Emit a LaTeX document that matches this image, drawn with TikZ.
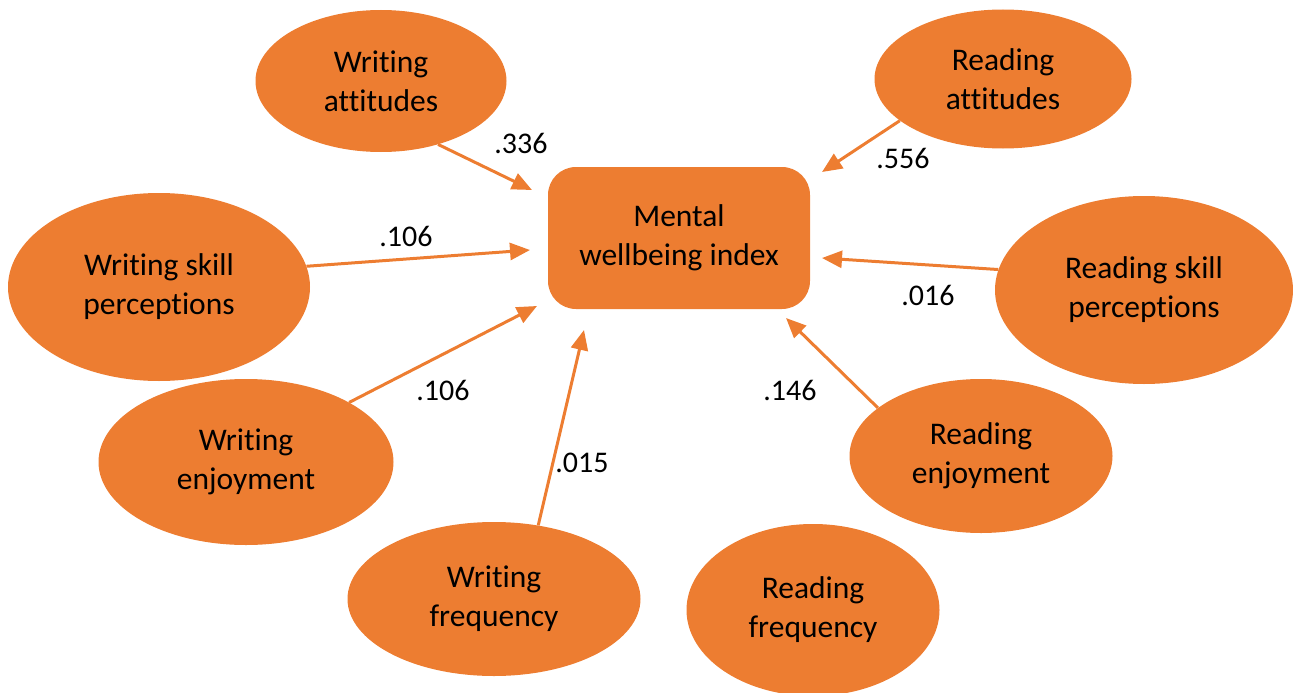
\documentclass[tikz,border=0pt]{standalone}
\usepackage{fontspec}
\setmainfont{Carlito}[Ligatures=NoCommon]
\usetikzlibrary{shapes.geometric,arrows.meta}
\definecolor{orng}{HTML}{ED7D31}
\tikzset{
  var/.style={ellipse, fill=orng, draw=none, inner sep=0pt, align=center,
    font=\fontsize{31.5}{39}\selectfont},
  central/.style={rectangle, rounded corners=28pt, fill=orng, draw=none, inner sep=0pt,
    align=center, minimum width=262pt, minimum height=142pt,
    font=\fontsize{31.5}{39}\selectfont},
  arr/.style={draw=orng, line width=3pt, -{Triangle[length=20pt,width=17pt]}},
  coef/.style={font=\fontsize{30}{35}\selectfont, inner sep=0pt}
}
\begin{document}
\begin{tikzpicture}[x=1pt,y=-1pt]
\useasboundingbox (0,0) rectangle (1293,693);
\node[central] (mw) at (679,238) {Mental\\wellbeing index};
\node[var, minimum width=251pt, minimum height=142pt] (wa) at (381,81) {Writing\\attitudes};
\node[var, minimum width=257pt, minimum height=139pt] (ra) at (1003,79) {Reading\\attitudes};
\node[var, minimum width=302pt, minimum height=188pt] (ws) at (159,287) {Writing skill\\perceptions};
\node[var, minimum width=298pt, minimum height=188pt] (rs) at (1144,290) {Reading skill\\perceptions};
\node[var, minimum width=295pt, minimum height=166pt] (we) at (246,462) {Writing\\enjoyment};
\node[var, minimum width=263pt, minimum height=154pt] (re) at (981,456) {Reading\\enjoyment};
\node[var, minimum width=293pt, minimum height=154pt] (wf) at (494,599) {Writing\\frequency};
\node[var, minimum width=253pt, minimum height=172pt] (rf) at (813,610) {Reading\\frequency};
\coordinate (t1) at (532,190);
\coordinate (t2) at (822,172);
\coordinate (t3) at (530,250);
\coordinate (t4) at (822,258);
\coordinate (t5) at (537,306);
\coordinate (t6) at (584,330);
\coordinate (t7) at (786,318);
\draw[arr] (wa.-48.8) -- (t1);
\draw[arr] (ra.202.3) -- (t2);
\draw[arr] (ws.8.3) -- (t3);
\draw[arr] (rs.172.3) -- (t4);
\draw[arr] (we.30.9) -- (t5);
\draw[arr] (wf.59.8) -- (t6);
\draw[arr] (re.155.2) -- (t7);
\node[coef] (c1) at (521,143) {.336};
\node[coef] (c2) at (903,158) {.556};
\node[coef] (c3) at (406,236) {.106};
\node[coef] (c4) at (928,295) {.016};
\node[coef] (c5) at (443,390) {.106};
\node[coef] (c6) at (582,463) {.015};
\node[coef] (c7) at (790,390) {.146};
\end{tikzpicture}
\end{document}
